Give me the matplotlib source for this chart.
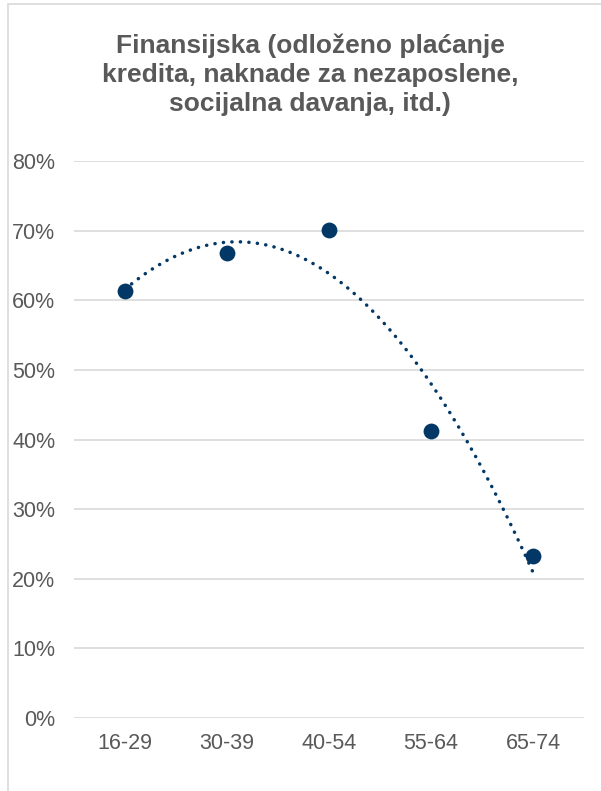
import matplotlib
matplotlib.use("Agg")
import matplotlib.pyplot as plt
import numpy as np
from matplotlib.patches import Rectangle

categories = ["16-29", "30-39", "40-54", "55-64", "65-74"]
values = [0.613, 0.668, 0.701, 0.412, 0.233]
title = "Finansijska (odloženo plaćanje\nkredita, naknade za nezaposlene,\nsocijalna davanja, itd.)"

navy = "#023766"
grid_c = "#d9d9d9"
text_c = "#595959"

plt.rcParams["font.family"] = ["Liberation Sans", "DejaVu Sans"]

fig = plt.figure(figsize=(6.01, 7.91), dpi=100)
fig.patches.append(Rectangle((8 / 601, -0.01), 1.0, 1 - 4 / 791 + 0.01,
                             transform=fig.transFigure, fill=False,
                             edgecolor=grid_c, linewidth=1.2))

ax = fig.add_axes([74 / 601, 1 - 718 / 791, 510 / 601, 557 / 791])
x = np.arange(len(categories))

# polynomial (order 2) trendline
coef = np.polyfit(x, values, 2)
xs = np.linspace(x[0], x[-1], 200)
ax.plot(xs, np.polyval(coef, xs), color=navy, linewidth=2.5,
        linestyle=(0, (0.05, 2.4)), dash_capstyle="round", zorder=2)
ax.scatter(x, values, s=130, color=navy, zorder=3, linewidths=0)

ax.set_xlim(-0.5, len(categories) - 0.5)
ax.set_ylim(0, 0.8)
ax.set_yticks(np.arange(0, 0.81, 0.1))
ax.set_yticklabels([f"{int(round(v * 100))}%" for v in np.arange(0, 0.81, 0.1)])
ax.set_xticks(x)
ax.set_xticklabels(categories)
ax.tick_params(length=0, labelsize=15.5, labelcolor=text_c)
ax.tick_params(axis="y", pad=13.5)
ax.tick_params(axis="x", pad=11)
ax.grid(axis="y", color=grid_c, linewidth=1.2)
ax.set_axisbelow(True)
for s in ax.spines.values():
    s.set_visible(False)

fig.text(310 / 601, 1 - 75 / 791, title, ha="center", va="center",
         fontsize=19, fontweight="bold", color=text_c, linespacing=1.27)

fig.savefig("out.png", dpi=100)
